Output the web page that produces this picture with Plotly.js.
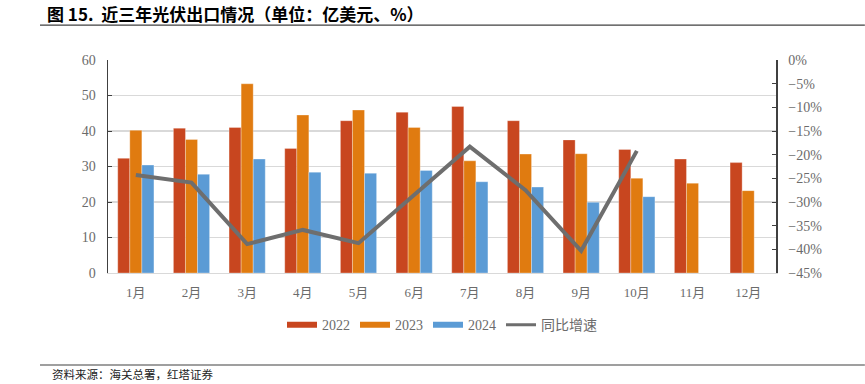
<!DOCTYPE html>
<html>
<head>
<meta charset="utf-8">
<script src="https://cdn.plot.ly/plotly-3.0.1.min.js"></script>
<style>html,body{margin:0;padding:0;background:#fff;}#chart{width:865px;height:384px;}</style>
</head>
<body>
<div id="chart"></div>
<script>
const months = ["1月","2月","3月","4月","5月","6月","7月","8月","9月","10月","11月","12月"];
const v2022 = [32.3, 40.8, 41.0, 35.1, 42.9, 45.3, 46.9, 42.9, 37.5, 34.8, 32.1, 31.1];
const v2023 = [40.2, 37.6, 53.3, 44.5, 45.9, 41.0, 31.6, 33.5, 33.6, 26.7, 25.3, 23.2];
const v2024 = [30.4, 27.8, 32.1, 28.4, 28.1, 28.9, 25.7, 24.2, 19.9, 21.5, null, null];
const yoy = [-24.3, -25.9, -38.9, -35.9, -38.7, -28.5, -18.3, -27.5, -40.3, -19.2, null, null];

const c2022 = "#C8461F", c2023 = "#E07B10", c2024 = "#5B9BD5", cLine = "#6E6E6E";
const tickFont = {family: "Liberation Serif, Noto Sans CJK SC, serif", size: 14, color: "#6b6b6b"};
const barLine = {color: "rgba(255,255,255,0.6)", width: 0.5};

const traces = [
  {type: "bar", name: "2022", x: months, y: v2022, marker: {color: c2022, line: barLine}, showlegend: false},
  {type: "bar", name: "2023", x: months, y: v2023, marker: {color: c2023, line: barLine}, showlegend: false},
  {type: "bar", name: "2024", x: months, y: v2024, marker: {color: c2024, line: barLine}, showlegend: false},
  {type: "scatter", mode: "lines", name: "同比增速", x: months, y: yoy, yaxis: "y2",
   line: {color: cLine, width: 4}, connectgaps: false, showlegend: false},
  // legend-only entries (wide rectangle swatches like the original)
  {type: "scatter", mode: "lines", name: "2022", x: [null], y: [null], line: {color: c2022, width: 6}},
  {type: "scatter", mode: "lines", name: "2023", x: [null], y: [null], line: {color: c2023, width: 6}},
  {type: "scatter", mode: "lines", name: "2024", x: [null], y: [null], line: {color: c2024, width: 6}},
  {type: "scatter", mode: "lines", name: "同比增速", x: [null], y: [null], line: {color: cLine, width: 3}}
];

const layout = {
  width: 865, height: 384,
  margin: {l: 108, r: 89, t: 60, b: 111},
  paper_bgcolor: "#fff", plot_bgcolor: "#fff",
  barmode: "group", bargap: 0.35, bargroupgap: 0,
  showlegend: true,
  title: {text: "<b>图\u00a015.\u00a0\u00a0近三年光伏出口情况（单位：亿美元、%）</b>", x: 47/865, xanchor: "left", xref: "container",
          y: 1 - 15/384, yanchor: "middle", yref: "container",
          font: {family: "Noto Sans CJK SC, sans-serif", size: 17, color: "#000"}},
  xaxis: {type: "category", tickfont: {family: "Liberation Serif, Noto Sans CJK SC, serif", size: 13, color: "#6b6b6b"},
          showline: true, linecolor: "#d9d9d9", linewidth: 1,
          ticks: "", showgrid: false, zeroline: false, ticklabelstandoff: 7},
  yaxis: {range: [0, 60], dtick: 10, tickfont: tickFont, showgrid: true, gridcolor: "#d9d9d9", gridwidth: 1.2,
          showline: true, linecolor: "#404040", linewidth: 1.5, ticks: "inside", ticklen: 4, tickcolor: "#404040",
          zeroline: false, ticklabelstandoff: 8},
  yaxis2: {range: [-45, 0], dtick: 5, overlaying: "y", side: "right", ticksuffix: "%", tickfont: tickFont,
           showgrid: false, showline: true, linecolor: "#404040", linewidth: 1.5, ticks: "inside", ticklen: 4,
           tickcolor: "#404040", zeroline: false, ticklabelstandoff: 8},
  legend: {orientation: "h", x: 0.5, xanchor: "center", y: -0.245, yanchor: "middle",
           font: {family: "Liberation Serif, Noto Sans CJK SC, serif", size: 14, color: "#6b6b6b"},
           traceorder: "normal", itemwidth: 30},
  shapes: [
    {type: "line", xref: "paper", yref: "paper", x0: -0.1018, x1: 1.133, y0: 1.164, y1: 1.164,
     line: {color: "#404040", width: 1.2}},
    {type: "line", xref: "paper", yref: "paper", x0: -0.1018, x1: 1.133, y0: -0.432, y1: -0.432,
     line: {color: "#404040", width: 1.2}}
  ],
  annotations: [
    {text: "资料来源：海关总署，红塔证券", xref: "paper", yref: "paper", x: (50-108)/668, xanchor: "left",
     y: (273-374)/213, yanchor: "middle", showarrow: false,
     font: {family: "Noto Sans CJK SC, sans-serif", size: 11.5, color: "#222"}}
  ]
};

Plotly.newPlot("chart", traces, layout, {displayModeBar: false, staticPlot: true});
</script>
</body>
</html>
